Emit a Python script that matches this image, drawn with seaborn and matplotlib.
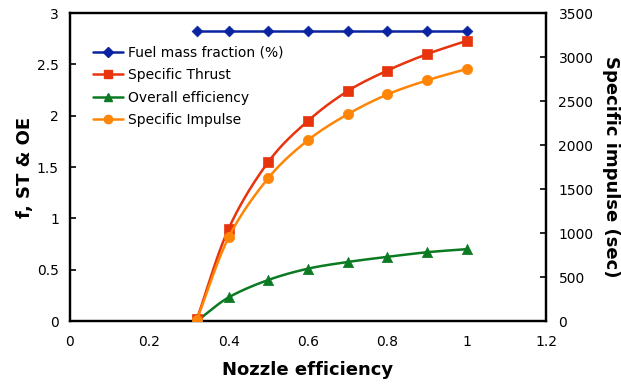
import numpy as np
import matplotlib
matplotlib.use("Agg")
import matplotlib.pyplot as plt
from matplotlib.lines import Line2D
import seaborn as sns

# Nozzle efficiency sweep and the resulting performance figures
nozzle_eff = [0.32, 0.4, 0.5, 0.6, 0.7, 0.8, 0.9, 1.0]
fuel_mass_fraction = [2.83, 2.83, 2.83, 2.83, 2.83, 2.83, 2.83, 2.83]
specific_thrust = [0.02, 0.90, 1.55, 1.95, 2.24, 2.44, 2.60, 2.73]
overall_eff = [0.0, 0.23, 0.40, 0.51, 0.575, 0.625, 0.67, 0.70]
specific_impulse = [15, 950, 1625, 2055, 2350, 2575, 2735, 2865]

left_ticks = [0, 0.5, 1, 1.5, 2, 2.5, 3]
right_ticks = [0, 500, 1000, 1500, 2000, 2500, 3000, 3500]
x_ticks = [0, 0.2, 0.4, 0.6, 0.8, 1.0, 1.2]

BLUE = "#0A23A0"
RED = "#E8340C"
GREEN = "#0B7A22"
ORANGE = "#FF8507"


def smooth(xs, ys, n=30):
    """Catmull-Rom spline through the points, for a smoothed line."""
    p = np.column_stack([xs, ys]).astype(float)
    p = np.vstack([2 * p[0] - p[1], p, 2 * p[-1] - p[-2]])
    out = []
    t = np.linspace(0, 1, n)[:, None]
    for i in range(1, len(p) - 2):
        p0, p1, p2, p3 = p[i - 1], p[i], p[i + 1], p[i + 2]
        seg = 0.5 * ((2 * p1) + (-p0 + p2) * t
                     + (2 * p0 - 5 * p1 + 4 * p2 - p3) * t ** 2
                     + (-p0 + 3 * p1 - 3 * p2 + p3) * t ** 3)
        out.append(seg if i == 1 else seg[1:])
    s = np.vstack(out)
    return s[:, 0], s[:, 1]


sns.set_theme(style="white")
plt.rcParams["font.family"] = ["DejaVu Sans"]
plt.rcParams["text.color"] = "black"
plt.rcParams["axes.labelcolor"] = "black"

fig = plt.figure(figsize=(6.21, 3.85), dpi=100)
ax = fig.add_axes([0.1127, 0.1662, 0.7665, 0.7998])
ax2 = ax.twinx()

lw = 1.8


def draw(axis, ys, color, marker, ms):
    sx, sy = smooth(nozzle_eff, ys)
    sns.lineplot(x=sx, y=sy, ax=axis, color=color, linewidth=lw, sort=False,
                 estimator=None, legend=False)
    sns.scatterplot(x=nozzle_eff, y=ys, ax=axis, color=color, marker=marker,
                    s=ms, edgecolor=color, linewidth=0.5, legend=False, zorder=5)


draw(ax, fuel_mass_fraction, BLUE, "D", 30)
draw(ax, specific_thrust, RED, "s", 50)
draw(ax, overall_eff, GREEN, "^", 55)
draw(ax2, specific_impulse, ORANGE, "o", 55)

ax.set_xlim(0, 1.2)
ax.set_ylim(0, 3)
ax2.set_ylim(0, 3500)
ax.set_xticks(x_ticks)
ax.set_xticklabels(["0", "0.2", "0.4", "0.6", "0.8", "1", "1.2"])
ax.set_yticks(left_ticks)
ax.set_yticklabels(["0", "0.5", "1", "1.5", "2", "2.5", "3"])
ax2.set_yticks(right_ticks)

for a in (ax, ax2):
    for sp in a.spines.values():
        sp.set_color("black")
        sp.set_linewidth(1.6)
    a.tick_params(direction="in", length=4, width=1.2, colors="black",
                  labelsize=10, pad=8)
    a.grid(False)
ax.tick_params(axis="x", pad=10)
ax2.tick_params(axis="y", pad=9)

ax.set_xlabel("Nozzle efficiency", fontsize=13, fontweight="bold", labelpad=9)
ax.set_ylabel("f, ST & OE", fontsize=13, fontweight="bold", labelpad=2)
ax2.set_ylabel("Specific impulse (sec)", fontsize=13, fontweight="bold",
               rotation=270, labelpad=19)

handles = [
    Line2D([], [], color=BLUE, lw=lw, marker="D", ms=5),
    Line2D([], [], color=RED, lw=lw, marker="s", ms=6),
    Line2D([], [], color=GREEN, lw=lw, marker="^", ms=6),
    Line2D([], [], color=ORANGE, lw=lw, marker="o", ms=6),
]
labels = ["Fuel mass fraction (%)", "Specific Thrust", "Overall efficiency",
          "Specific Impulse"]
ax2.legend(handles, labels, loc="upper left", bbox_to_anchor=(0.048, 0.895),
           frameon=False, fontsize=10, handlelength=2.2, handletextpad=0.35,
           labelspacing=0.62, borderaxespad=0, borderpad=0)

fig.savefig("out.png", dpi=100)
